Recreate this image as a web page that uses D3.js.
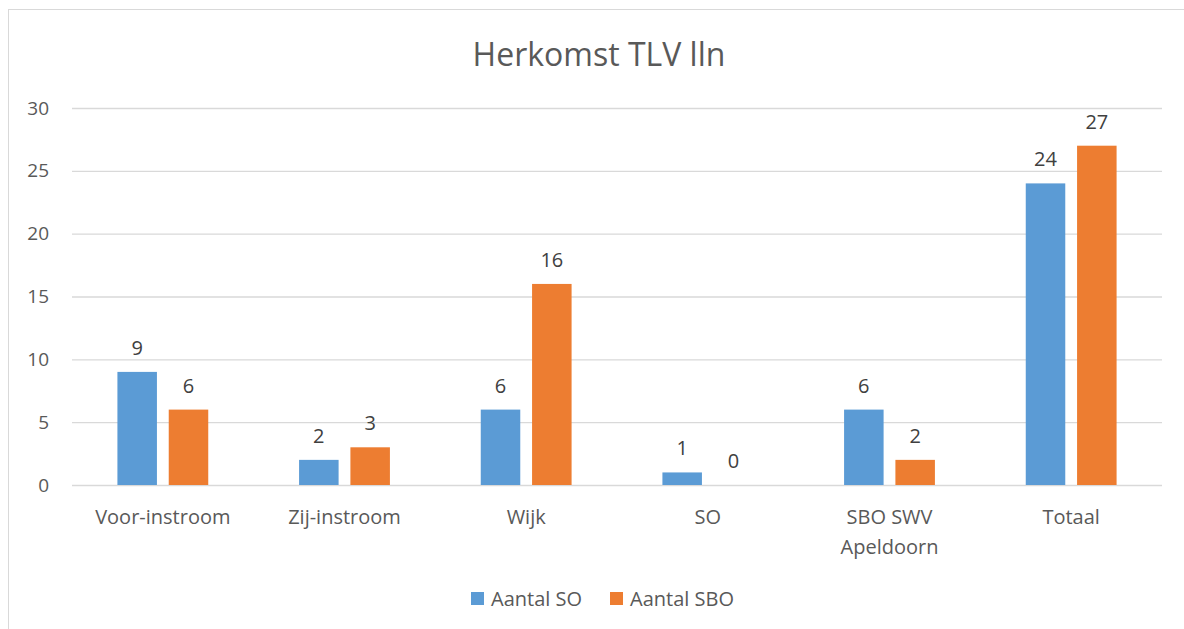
<!DOCTYPE html>
<html>
<head>
<meta charset="utf-8">
<script src="https://cdn.jsdelivr.net/npm/d3@7"></script>
<style>
  body { margin: 0; background: #fff; }
  text { font-family: "Open Sans", "Noto Sans", sans-serif; }
</style>
</head>
<body>
<div id="canvas"></div>
<script>
const categories = ["Voor-instroom", "Zij-instroom", "Wijk", "SO", "SBO SWV Apeldoorn", "Totaal"];
const labelLines = [["Voor-instroom"], ["Zij-instroom"], ["Wijk"], ["SO"], ["SBO SWV", "Apeldoorn"], ["Totaal"]];
const seriesNames = ["Aantal SO", "Aantal SBO"];
const aantalSO = [9, 2, 6, 1, 6, 24];
const aantalSBO = [6, 3, 16, 0, 2, 27];
const yTicks = [0, 5, 10, 15, 20, 25, 30];
const colors = ["#5B9BD5", "#ED7D31"];

const width = 1184, height = 629;
const margin = { top: 108, left: 72, right: 22, bottom: 144 };
const iwidth = width - margin.left - margin.right;
const iheight = height - margin.top - margin.bottom;

const svg = d3.select("#canvas").append("svg")
  .attr("width", width).attr("height", height);

// chart area border (only top and left are visible)
svg.append("rect")
  .attr("x", 8.5).attr("y", 9.5)
  .attr("width", 1200).attr("height", 700)
  .attr("fill", "none").attr("stroke", "#D9D9D9");

svg.append("text")
  .attr("x", 599).attr("y", 66)
  .attr("text-anchor", "middle")
  .attr("font-size", 32).attr("fill", "#595959")
  .text("Herkomst TLV lln");

const y = d3.scaleLinear().domain([0, 30]).range([iheight, 0]);
const x = d3.scaleBand().domain(categories).range([0, iwidth]).paddingInner(0).paddingOuter(0);
const inner = d3.scaleBand().domain(seriesNames).range([x.bandwidth() * 0.25, x.bandwidth() * 0.75]).paddingInner(0.23);

const g = svg.append("g").attr("transform", `translate(${margin.left},${margin.top})`);

// gridlines and y labels
const yAxis = g.append("g")
  .call(d3.axisLeft(y).tickValues(yTicks).tickSize(-iwidth).tickPadding(23));
yAxis.select(".domain").remove();
yAxis.selectAll(".tick line").attr("stroke", "#D9D9D9").attr("stroke-width", 1.3);
yAxis.selectAll(".tick text")
  .attr("font-size", 19).attr("fill", "#595959")
  .attr("font-family", "'Open Sans', sans-serif");

const data = categories.map((c, i) => ({ cat: c, vals: [aantalSO[i], aantalSBO[i]] }));

const groups = g.selectAll(".cat").data(data).enter().append("g")
  .attr("transform", d => `translate(${x(d.cat)},0)`);

groups.selectAll("rect").data(d => d.vals.map((v, k) => ({ v, k }))).enter().append("rect")
  .attr("x", d => inner(seriesNames[d.k]))
  .attr("width", inner.bandwidth())
  .attr("y", d => y(d.v))
  .attr("height", d => iheight - y(d.v))
  .attr("fill", d => colors[d.k]);

groups.selectAll(".lbl").data(d => d.vals.map((v, k) => ({ v, k }))).enter().append("text")
  .attr("x", d => inner(seriesNames[d.k]) + inner.bandwidth() / 2)
  .attr("y", d => y(d.v) - 17)
  .attr("text-anchor", "middle")
  .attr("font-size", 20).attr("fill", "#404040")
  .text(d => d.v);

// category labels
const xl = g.append("g").attr("transform", `translate(0,${iheight})`);
categories.forEach((c, i) => {
  const t = xl.append("text")
    .attr("x", x(c) + x.bandwidth() / 2)
    .attr("y", 39)
    .attr("text-anchor", "middle")
    .attr("font-size", 20).attr("fill", "#595959");
  labelLines[i].forEach((line, j) => {
    t.append("tspan").attr("x", x(c) + x.bandwidth() / 2).attr("dy", j === 0 ? 0 : 30).text(line);
  });
});

// legend
const legend = svg.append("g").attr("transform", "translate(471,592)");
const legendX = [0, 139];
seriesNames.forEach((s, i) => {
  const lg = legend.append("g").attr("transform", `translate(${legendX[i]},0)`);
  lg.append("rect").attr("width", 13).attr("height", 13).attr("fill", colors[i]);
  lg.append("text").attr("x", 20).attr("y", 14)
    .attr("font-size", 20).attr("fill", "#595959").text(s);
});
</script>
</body>
</html>
